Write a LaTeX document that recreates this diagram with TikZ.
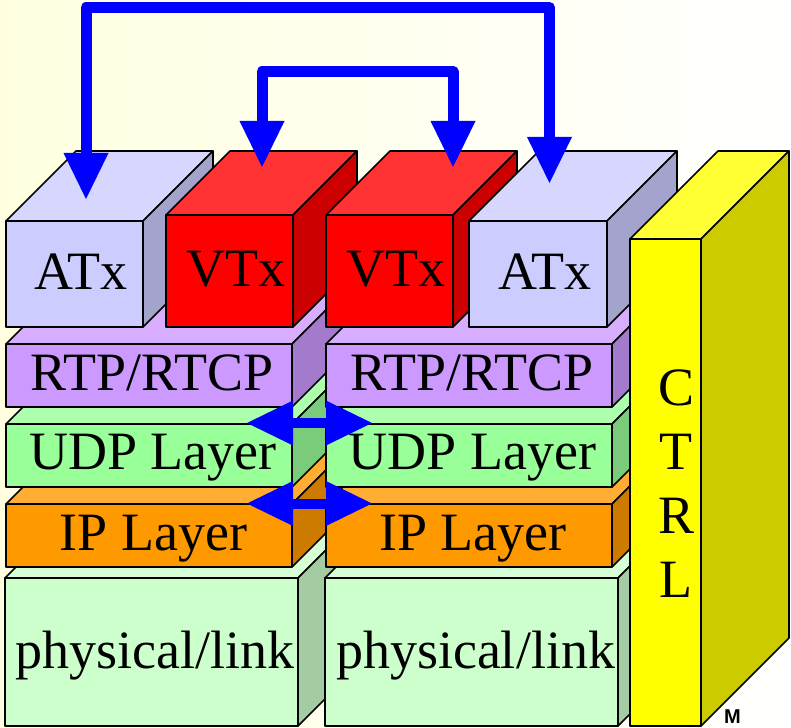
\documentclass[tikz,border=0pt]{standalone}
\usepackage{fontspec}
\setmainfont{Liberation Serif}
\setsansfont{Liberation Sans}
\usetikzlibrary{arrows.meta}

\definecolor{atxc}{HTML}{CCCCFF}
\definecolor{vtxc}{HTML}{FF0000}
\definecolor{rtpc}{HTML}{CC99FF}
\definecolor{udpc}{HTML}{99FF99}
\definecolor{ipc}{HTML}{FF9900}
\definecolor{physc}{HTML}{CCFFCC}
\definecolor{ctrlc}{HTML}{FFFF00}
\definecolor{bgc}{HTML}{FFFFE0}

\begin{document}
\begin{tikzpicture}[x=1pt,y=-1pt,
  face/.style={draw=black,line width=1.6pt,line join=round},
  lbl/.style={anchor=base,inner sep=0,font=\fontsize{54}{64}\selectfont},
  bighead/.tip={Triangle[length=46pt,width=45pt,line width=0pt]},
  link/.style={draw=blue,line width=11pt,line join=round,bighead-bighead},
  swap/.style={draw=blue,line width=10pt,bighead-bighead}]
\useasboundingbox (0,0) rectangle (791,727);
\clip (0,0) rectangle (791,727);
\shade[left color=bgc,right color=white] (0,0) rectangle (791,727);

% boxes: name/left/top/right/bottom/depth/colour, back to front
\foreach \n/\l/\t/\r/\b/\d/\c in {physA/5/578/298/726/70/physc, ipA/6/504/292/567/70/ipc,
  udpA/6/424/292/487/70/udpc, rtpA/6/344/292/407/70/rtpc, atxA/6/221/143/327/70/atxc,
  vtxA/166/215/293/327/64/vtxc, physB/325/578/618/726/70/physc, ipB/326/504/612/567/70/ipc,
  udpB/326/424/612/487/70/udpc, rtpB/326/344/612/407/70/rtpc, vtxB/326/215/453/327/64/vtxc,
  atxB/469/221/607/327/70/atxc, ctrl/630/239/701/726/88/ctrlc}{%
  \filldraw[face,fill=\c!80!white] (\l,\t) -- ++(\d,-\d) -- ({\r+\d},{\t-\d}) -- (\r,\t) -- cycle;
  \filldraw[face,fill=\c!80!black] (\r,\t) -- ++(\d,-\d) -- ({\r+\d},{\b-\d}) -- (\r,\b) -- cycle;
  \filldraw[face,fill=\c] (\l,\t) rectangle (\r,\b);
  \coordinate (\n) at ({(\l+\r)/2},{(\t+\b)/2});}

\foreach \n/\tx/\ty/\s in {physA/155/668/{physical/link}, ipA/153.5/550/{IP Layer},
  udpA/153/469/{UDP Layer}, rtpA/152/390/{RTP/RTCP}, atxA/80.5/289/ATx, vtxA/235.7/286.7/VTx,
  physB/475.5/668/{physical/link}, ipB/473/550/{IP Layer}, udpB/472.5/469/{UDP Layer},
  rtpB/472/390/{RTP/RTCP}, vtxB/396/286.7/VTx, atxB/544.5/289/ATx}{%
  \node[lbl] (\n-txt) at (\tx,\ty) {\s};}

\foreach \ch [count=\i] in {C,T,R,L}{%
  \node[lbl] (ctrl\i) at (676,{341+64*\i}) {\ch};}

\node[anchor=north west,inner sep=0,font=\sffamily\bfseries\fontsize{20}{24}\selectfont] (foot) at (724,710) {M};

\coordinate (atxA-in) at (86,199);
\coordinate (atxB-in) at (549.5,183);
\coordinate (vtxA-in) at (262,167);
\coordinate (vtxB-in) at (453,167);
\coordinate (udpA-end) at (247,423);
\coordinate (udpB-end) at (372,423);
\coordinate (ipA-end) at (247,503.5);
\coordinate (ipB-end) at (372,503.5);

\draw[link] (atxA-in) -- ++(0,-191.5) -| (atxB-in);
\draw[link] (vtxA-in) -- ++(0,-95.5) -| (vtxB-in);
\draw[swap] (udpA-end) -- (udpB-end);
\draw[swap] (ipA-end) -- (ipB-end);
\end{tikzpicture}
\end{document}
